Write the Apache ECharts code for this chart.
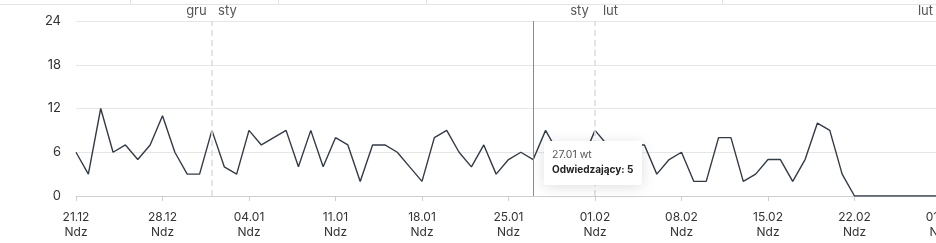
<!DOCTYPE html>
<html>
<head>
<meta charset="utf-8">
<script src="https://cdn.jsdelivr.net/npm/echarts@6/dist/echarts.min.js"></script>
<style>
html,body{margin:0;padding:0;overflow:hidden;background:#fff;width:936px;height:243px;}
#c{width:990px;height:243px;}
</style>
</head>
<body>
<div id="c"></div>
<script>
const dates = [
 '21.12','22.12','23.12','24.12','25.12','26.12','27.12','28.12','29.12','30.12','31.12',
 '01.01','02.01','03.01','04.01','05.01','06.01','07.01','08.01','09.01','10.01','11.01','12.01','13.01','14.01','15.01','16.01','17.01','18.01','19.01','20.01','21.01','22.01','23.01','24.01','25.01','26.01','27.01','28.01','29.01','30.01','31.01',
 '01.02','02.02','03.02','04.02','05.02','06.02','07.02','08.02','09.02','10.02','11.02','12.02','13.02','14.02','15.02','16.02','17.02','18.02','19.02','20.02','21.02','22.02','23.02','24.02','25.02','26.02','27.02','28.02',
 '01.03'
];
const visitors = [
 6,3,12,6,7,5,7,11,6,3,3,
 9,4,3,9,7,8,9,4,9,4,8,7,2,7,7,6,4,2,8,9,6,4,7,3,5,6,5,9,6,4,5,
 9,7,5,7,7,3,5,6,2,2,8,8,2,3,5,5,2,5,10,9,3,0,0,0,0,0,0,0,
 0
];
const weekdaysShort = ['Ndz','Pon','Wt','Śr','Czw','Pt','Sob'];
const weekdaysTip = ['nd','pn','wt','śr','cz','pt','sb'];
const yTicks = [0,6,12,18,24];
const monthBoundaries = [
 {date:'01.01', before:'gru', after:'sty'},
 {date:'01.02', before:'sty', after:'lut'},
 {date:'01.03', before:'lut', after:'mar'}
];
const seriesName = 'Odwiedzający';
const tipIndex = dates.indexOf('27.01');

const FONT = 'Inter, "Noto Sans", sans-serif';
const chart = echarts.init(document.getElementById('c'), null, {renderer:'canvas'});
chart.setOption({
  animation:false,
  textStyle:{fontFamily:FONT},
  grid:{left:76, right:49, top:21, bottom:47, containLabel:false},
  xAxis:{
    type:'category', data:dates, boundaryGap:false,
    axisLine:{lineStyle:{color:'#cfcfcf', width:1}},
    axisTick:{show:true, length:5, lineStyle:{color:'#cfcfcf'}, interval:(i)=>i%7===0},
    axisLabel:{
      interval:(i)=>i%7===0, margin:14, color:'#333', fontSize:12, lineHeight:15, fontFamily:FONT,
      formatter:(v,i)=>v+'\n'+weekdaysShort[i%7]
    },
    splitLine:{show:false}
  },
  yAxis:{
    type:'value', min:yTicks[0], max:yTicks[yTicks.length-1], interval:6,
    axisLine:{show:false}, axisTick:{show:false},
    axisLabel:{margin:15, color:'#333', fontSize:13, fontFamily:FONT},
    splitLine:{lineStyle:{color:'#e6e6e6', width:1.2}}
  },
  tooltip:{
    trigger:'axis', transitionDuration:0, showDelay:0, alwaysShowContent:true,
    backgroundColor:'#fff', borderWidth:0, padding:[6,9,8,8],
    extraCssText:'box-shadow:0 2px 14px rgba(0,0,0,0.13);border-radius:2px;',
    axisPointer:{type:'line', lineStyle:{color:'#8a8a8a', width:1, type:'solid'}},
    position:(pt)=>[pt[0]+11, pt[1]-19],
    formatter:(params)=>{
      const p = params[0];
      return '<div style="font-family:Inter,sans-serif;font-size:10.5px;line-height:15px;color:#555">'+p.name+' '+weekdaysTip[p.dataIndex%7]+'</div>'+
             '<div style="font-family:Inter,sans-serif;font-size:10px;line-height:15px;color:#222;font-weight:700">'+seriesName+': '+p.value+'</div>';
    }
  },
  series:[{
    name:seriesName, type:'line', data:visitors, symbol:'none', showSymbol:false,
    lineStyle:{color:'#333b47', width:1.4},
    emphasis:{disabled:true},
    markLine:{
      silent:true, symbol:['none','none'], animation:false,
      lineStyle:{color:'#dcdcdc', type:[6,4], width:1.5},
      label:{
        show:true, position:'end', distance:3,
        formatter:(p)=>{const m = monthBoundaries.find(b=>b.date===p.value || dates[p.value]===b.date); return '{l|'+m.before+'}{s|}{r|'+m.after+'}';},
        rich:{
          l:{width:30, align:'right', color:'#555', fontSize:13, fontFamily:FONT},
          s:{width:1},
          r:{width:30, align:'left', color:'#555', fontSize:13, fontFamily:FONT}
        }
      },
      data:monthBoundaries.map(b=>({xAxis:b.date}))
    }
  }],
  graphic:[
    {type:'line', shape:{x1:0,y1:4.5,x2:990,y2:4.5}, style:{stroke:'#e3e3e3', lineWidth:1}, silent:true},
    {type:'line', shape:{x1:130.5,y1:0,x2:130.5,y2:4}, style:{stroke:'#e3e3e3', lineWidth:1}, silent:true},
    {type:'line', shape:{x1:278.5,y1:0,x2:278.5,y2:4}, style:{stroke:'#e3e3e3', lineWidth:1}, silent:true},
    {type:'line', shape:{x1:426.5,y1:0,x2:426.5,y2:4}, style:{stroke:'#e3e3e3', lineWidth:1}, silent:true},
    {type:'line', shape:{x1:722.5,y1:0,x2:722.5,y2:4}, style:{stroke:'#e3e3e3', lineWidth:1}, silent:true}
  ]
});
chart.dispatchAction({type:'showTip', seriesIndex:0, dataIndex:tipIndex});
</script>
</body>
</html>
